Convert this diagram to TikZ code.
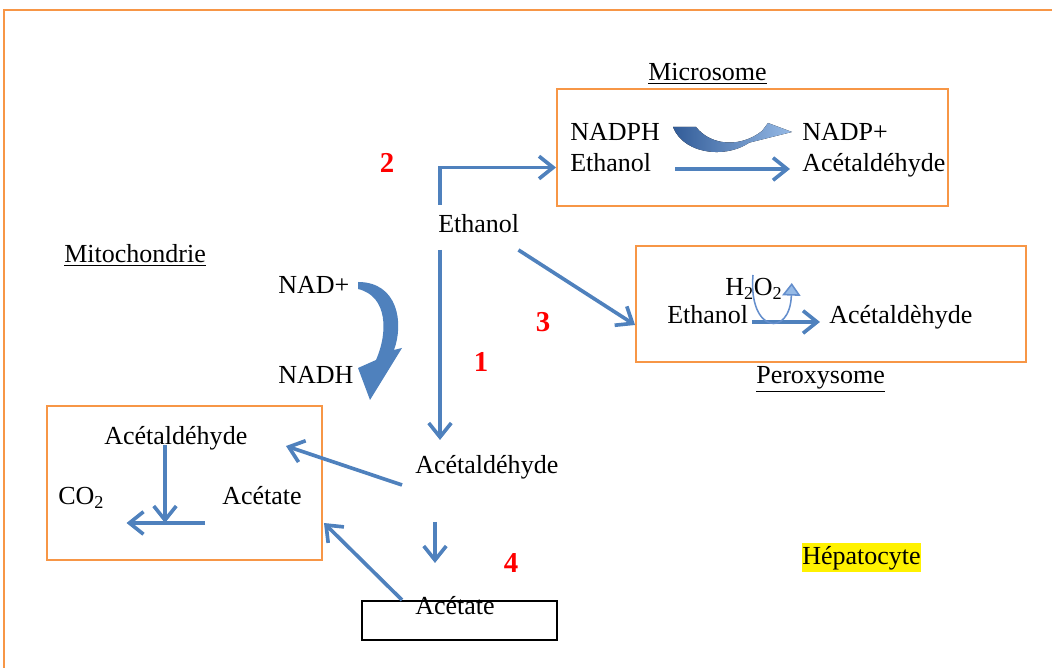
\documentclass[tikz,border=0pt]{standalone}
\usepackage{fontspec}
\setmainfont{Liberation Serif}
\usetikzlibrary{positioning, arrows.meta, calc, fit}
\definecolor{arrowblue}{RGB}{79, 129, 189}
\definecolor{boxorange}{RGB}{247, 150, 70}
\definecolor{deepblue}{RGB}{50, 92, 152}
\definecolor{paleblue}{RGB}{150, 186, 230}
\definecolor{midblue}{RGB}{100, 142, 204}
\tikzset{
  txt/.style={
    font=\fontsize{18.5}{22}\selectfont,
    inner sep=0pt,
    anchor=base west
  },
  num/.style={
    font=\fontsize{20.5}{24}\selectfont\bfseries,
    text=red, inner sep=0pt
  },
  orgbox/.style={draw=boxorange, line width=1.4pt, inner sep=0pt},
  flow/.style={draw=arrowblue, line width=2.6pt, -{Straight Barb[length=10pt, width=16pt]}},
  thinflow/.style={draw=midblue, line width=1.1pt, -{Triangle[length=9pt, width=13pt, fill=paleblue]}}
}

\begin{document}
\begin{tikzpicture}[x=0.025cm, y=0.025cm]
\useasboundingbox (0,0) rectangle (1052,668);

% Hepatocyte frame
\draw[draw=boxorange, line width=1.6pt] (4,0) -- (4,658) -- (1052,658);

% Compartments
\node[orgbox, fit={(557,462) (948,579)}] (microBox) {};
\node[orgbox, fit={(636,306) (1026,422)}] (perBox) {};
\node[orgbox, fit={(47,108) (322,262)}] (mitoBox) {};
\node[draw, line width=1.4pt, inner sep=0pt, fit={(362,28) (557,67)}] (acetateBox) {};

% Compartment names
\node[txt] (microLbl) at (648,587) {\underline{Microsome}};
\node[txt] (perLbl) at (756,284) {\underline{Peroxysome}};
\node[txt] (mitoLbl) at (64,405) {\underline{Mitochondrie}};
\node[txt, fill=yellow, text height=15.6pt, text depth=5pt] (hepato) at (802,103) {Hépatocyte};

% Microsome
\node[txt] (nadph) at (570,527) {NADPH};
\node[txt] (ethMicro) at (570,496) {Ethanol};
\node[txt] (nadpPlus) at (802,527) {NADP+};
\node[txt] (acetMicro) at (802,496) {Acétaldéhyde};

% Peroxysome
\node[txt] (htwo) at (725,372) {H\textsubscript{2}O\textsubscript{2}};
\node[txt] (ethPer) at (667,344) {Ethanol};
\node[txt] (acetPer) at (829,344) {Acétaldèhyde};

% Cytosol
\node[txt] (eth) at (438,435) {Ethanol};
\node[txt] (nadPlus) at (278,374) {NAD+};
\node[txt] (nadh) at (278,284) {NADH};
\node[txt] (acet) at (415,194) {Acétaldéhyde};
\node[txt] (acetate) at (415,53) {Acétate};

% Mitochondrie
\node[txt] (acetMito) at (104,223) {Acétaldéhyde};
\node[txt] (co2) at (58,163) {CO\textsubscript{2}};
\node[txt] (acetateMito) at (222,163) {Acétate};

% Pathway numbers
\node[num] (stepOne) at (481,306) {1};
\node[num] (stepTwo) at (387,505) {2};
\node[num] (stepThree) at (543,346) {3};
\node[num] (stepFour) at (511,105) {4};

% Ethanol pathways
\draw[flow] ($(eth.base west)+(2,28)$) |- ($(microBox.west)+(0,-20)$);
\draw[flow] ($(eth.base west)+(2,-17)$) -- ($(acet.base west)+(25,34)$);
\draw[flow] ($(eth.base east)+(-1,-17)$) -- ($(perBox.west)+(0,-21)$);
\draw[flow] ($(ethMicro.base east)+(24,3)$) -- ($(acetMicro.base west)+(-12,3)$);
\draw[flow] ($(ethPer.base east)+(4,2)$) -- ($(acetPer.base west)+(-9,2)$);

% Cofactors
\fill[left color=deepblue, right color=paleblue]
  (673,541) .. controls (684,512) and (732,508) .. (755,530) -- (748,525) -- (792,536)
  -- (768,545) -- (762,537) .. controls (742,521) and (712,521) .. (696,541) -- cycle;
\fill[arrowblue]
  (358,386) .. controls (398,386) and (404,345) .. (394,318) -- (402,320) -- (370,268)
  -- (358,300) -- (376,308) .. controls (388,335) and (388,372) .. (358,379) -- cycle;
\draw[thinflow] ($(htwo.base west)+(28,21)$) .. controls (748,335) and (790,330) .. ($(htwo.base east)+(9,13)$);

% Acetaldehyde and acetate
\draw[flow] ($(acet.base west)+(-13,-11)$) -- ($(mitoBox.north east)+(-37,-41)$);
\draw[flow] ($(acet.base west)+(20,-48)$) -- ($(acetate.base west)+(20,52)$);
\draw[flow] ($(acetate.base west)+(-13,15)$) -- ($(mitoBox.east)+(1,-40)$);
\draw[flow] ($(acetMito.base west)+(61,0)$) -- ++(0,-78);
\draw[flow] ($(acetateMito.base west)+(-17,-18)$) -- ($(co2.base east)+(22,-18)$);

\end{tikzpicture}
\end{document}
